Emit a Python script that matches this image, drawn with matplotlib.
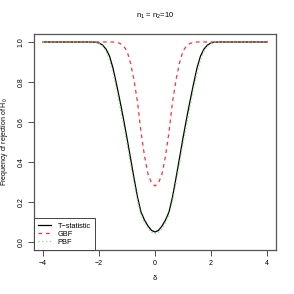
import matplotlib.pyplot as plt
import numpy as np

plt.rcParams['font.family'] = ['Liberation Sans', 'DejaVu Sans']
plt.rcParams['mathtext.fontset'] = 'custom'
plt.rcParams['mathtext.rm'] = 'Liberation Sans'
plt.rcParams['mathtext.it'] = 'Liberation Sans'

delta = [-4, -3.5, -3, -2.5, -2.25, -2.125, -2, -1.875, -1.75, -1.625, -1.5, -1.375,
         -1.25, -1.125, -1, -0.875, -0.75, -0.625, -0.5, -0.375, -0.25, -0.125, 0,
         0.125, 0.25, 0.375, 0.5, 0.625, 0.75, 0.875, 1, 1.125, 1.25, 1.375, 1.5,
         1.625, 1.75, 1.875, 2, 2.125, 2.25, 2.5, 3, 3.5, 4]

t_stat = [1.0, 1.0, 1.0, 1.0, 1.0, 0.999, 0.995, 0.985, 0.965, 0.93, 0.87, 0.79,
          0.705, 0.615, 0.52, 0.42, 0.32, 0.225, 0.15, 0.11, 0.08, 0.058, 0.05,
          0.058, 0.08, 0.11, 0.15, 0.225, 0.32, 0.42, 0.52, 0.615, 0.705, 0.79, 0.87,
          0.93, 0.965, 0.985, 0.995, 0.999, 1.0, 1.0, 1.0, 1.0, 1.0]

gbf = [1.0, 1.0, 1.0, 1.0, 1.0, 1.0, 1.0, 1.0, 1.0, 1.0, 1.0, 0.998,
       0.993, 0.98, 0.955, 0.895, 0.81, 0.70, 0.55, 0.43, 0.34, 0.295, 0.28,
       0.295, 0.34, 0.43, 0.55, 0.70, 0.81, 0.895, 0.955, 0.98, 0.993, 0.998, 1.0,
       1.0, 1.0, 1.0, 1.0, 1.0, 1.0, 1.0, 1.0, 1.0, 1.0]

pbf = [1.0, 1.0, 1.0, 1.0, 1.0, 0.998, 0.993, 0.98, 0.955, 0.91, 0.845, 0.765,
       0.675, 0.585, 0.49, 0.39, 0.295, 0.205, 0.135, 0.097, 0.068, 0.048, 0.04,
       0.048, 0.068, 0.097, 0.135, 0.205, 0.295, 0.39, 0.49, 0.585, 0.675, 0.765, 0.845,
       0.91, 0.955, 0.98, 0.993, 0.998, 1.0, 1.0, 1.0, 1.0, 1.0]

fig = plt.figure(figsize=(2.94, 2.94), dpi=100)
ax = fig.add_axes([34 / 294, 44 / 294, 242 / 294, 216 / 294])

ax.plot(delta, t_stat, color='black', lw=0.9, label='T\u2212statistic')
ax.plot(delta, gbf, color='#ff3030', lw=0.9, ls=(0, (3, 3)), label='GBF')
ax.plot(delta, pbf, color='#7ee07e', lw=0.9, ls=(0, (1, 2)), label='PBF')

ax.set_xlim(-4.32, 4.32)
ax.set_ylim(-0.04, 1.04)
ax.set_xticks([-4, -2, 0, 2, 4])
ax.set_xticklabels(['\u22124', '\u22122', '0', '2', '4'])
ax.set_yticks([0, 0.2, 0.4, 0.6, 0.8, 1.0])
ax.set_yticklabels(['0.0', '0.2', '0.4', '0.6', '0.8', '1.0'], rotation=90, va='center')
ax.tick_params(labelsize=5, length=4, width=0.6, pad=3, color='#333333')
for s in ax.spines.values():
    s.set_linewidth(0.9)
    s.set_color('#555555')

ax.set_xlabel('\u03b4', fontsize=5.5, labelpad=6)
ax.set_ylabel('Frequency of rejection of H$_0$', fontsize=5, labelpad=5)
ax.set_title('n$_1$ = n$_2$=10', fontsize=5.5, pad=12)

leg = ax.legend(loc='lower left', borderaxespad=0, fontsize=5.3, fancybox=False,
                framealpha=1, edgecolor='#444444', handlelength=1.65,
                handletextpad=0.95, borderpad=0.6, labelspacing=0.1)
leg.get_frame().set_linewidth(0.7)

fig.savefig('out.png', dpi=100)
